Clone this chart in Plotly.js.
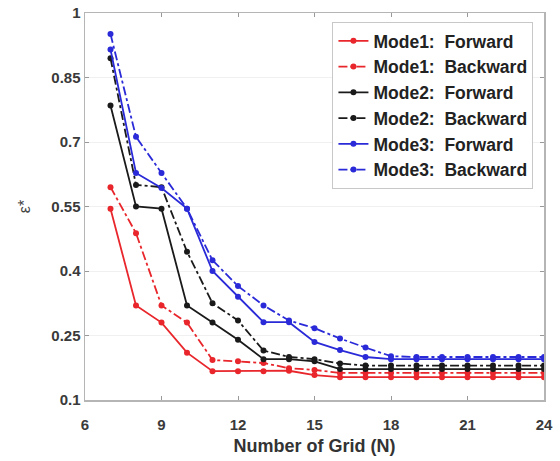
<!DOCTYPE html>
<html>
<head>
<meta charset="utf-8">
<script src="https://cdn.plot.ly/plotly-3.0.1.min.js"></script>
<style>html,body{margin:0;padding:0;background:#fff;}#chart{width:560px;height:461px;}</style>
</head>
<body>
<div id="chart"></div>
<script>
const gridN = [7, 8, 9, 10, 11, 12, 13, 14, 15, 16, 17, 18, 19, 20, 21, 22, 23, 24];
const mode1Forward  = [0.545, 0.320, 0.280, 0.210, 0.167, 0.167, 0.167, 0.168, 0.158, 0.153, 0.153, 0.153, 0.153, 0.153, 0.153, 0.153, 0.153, 0.153];
const mode1Backward = [0.595, 0.488, 0.320, 0.280, 0.193, 0.190, 0.186, 0.174, 0.170, 0.163, 0.163, 0.163, 0.163, 0.163, 0.163, 0.163, 0.163, 0.163];
const mode2Forward  = [0.785, 0.550, 0.545, 0.320, 0.280, 0.240, 0.195, 0.195, 0.190, 0.172, 0.172, 0.172, 0.172, 0.172, 0.172, 0.172, 0.172, 0.172];
const mode2Backward = [0.895, 0.600, 0.595, 0.445, 0.325, 0.285, 0.215, 0.200, 0.195, 0.185, 0.180, 0.180, 0.180, 0.180, 0.180, 0.180, 0.180, 0.180];
const mode3Forward  = [0.915, 0.628, 0.593, 0.545, 0.400, 0.340, 0.281, 0.281, 0.235, 0.216, 0.200, 0.195, 0.195, 0.195, 0.195, 0.195, 0.195, 0.195];
const mode3Backward = [0.951, 0.712, 0.628, 0.545, 0.425, 0.365, 0.320, 0.285, 0.267, 0.243, 0.222, 0.202, 0.200, 0.200, 0.200, 0.200, 0.200, 0.200];
const seriesNames = ["Mode1:  Forward", "Mode1:  Backward", "Mode2:  Forward", "Mode2:  Backward", "Mode3:  Forward", "Mode3:  Backward"];
const xTicks = [6, 9, 12, 15, 18, 21, 24];
const yTicks = [0.1, 0.25, 0.4, 0.55, 0.7, 0.85, 1];

const RED = '#e8262b', BLACK = '#1a1a1a', BLUE = '#2a2ad8';
const series = [mode1Forward, mode1Backward, mode2Forward, mode2Backward, mode3Forward, mode3Backward];
const colors = [RED, RED, BLACK, BLACK, BLUE, BLUE];
const dashes = ['solid', 'dashdot', 'solid', 'dashdot', 'solid', 'dashdot'];

const traces = series.map((ys, i) => ({
  x: gridN, y: ys, name: seriesNames[i], type: 'scatter', mode: 'lines+markers',
  legendgroup: 'g' + i,
  line: {color: colors[i], width: 1.8, dash: dashes[i]},
  marker: {color: colors[i], size: 6, symbol: 'circle'}
}));

const FONT = 'Liberation Sans, Arial, sans-serif';
const tickFont = {family: FONT, size: 15, color: '#3a3a3a', weight: 'bold'};
const layout = {
  width: 560, height: 461,
  margin: {l: 85, r: 16, t: 13, b: 61},
  paper_bgcolor: '#fff', plot_bgcolor: '#fff',
  font: {family: FONT, color: '#333'},
  xaxis: {
    range: [6, 24], tickvals: xTicks, ticktext: xTicks.map(String),
    tickfont: tickFont, ticks: 'inside', ticklen: 4, tickcolor: '#999',
    ticklabelstandoff: 10,
    showline: true, linecolor: '#b5b5b5', linewidth: 1.5, mirror: 'ticks',
    showgrid: false, zeroline: false,
    title: {text: 'Number of Grid (N)', font: {family: FONT, size: 18, color: '#333', weight: 'bold'}, standoff: 8}
  },
  yaxis: {
    range: [0.1, 1], tickvals: yTicks, ticktext: yTicks.map(String),
    tickfont: tickFont, ticks: 'inside', ticklen: 4, tickcolor: '#999',
    showline: true, linecolor: '#b5b5b5', linewidth: 1.5, mirror: 'ticks',
    showgrid: true, gridcolor: '#f0f0f0', zeroline: false,
    title: {text: 'ε*', font: {family: FONT, size: 16, color: '#444'}, standoff: 16}
  },
  showlegend: true,
  legend: {
    x: 0.977, y: 0.977, xanchor: 'right', yanchor: 'top',
    bgcolor: '#fff', bordercolor: '#c8c8c8', borderwidth: 1,
    font: {family: FONT, size: 17.5, color: '#222', weight: 'bold'},
    traceorder: 'grouped', tracegroupgap: 0, itemwidth: 30
  }
};

Plotly.newPlot('chart', traces, layout, {displayModeBar: false, staticPlot: true});
</script>
</body>
</html>
